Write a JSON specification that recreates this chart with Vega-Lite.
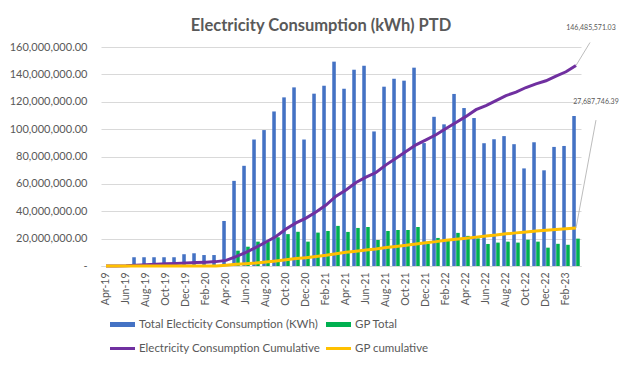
{
  "$schema": "https://vega.github.io/schema/vega-lite/v6.json",
  "width": 480,
  "height": 219,
  "autosize": {"type": "none"},
  "padding": {"left": 101, "top": 47, "right": 61, "bottom": 101},
  "background": "white",
  "title": {"text": "Electricity Consumption (kWh) PTD", "font": "Lato", "fontSize": 16.5, "fontWeight": "bold", "color": "#595959", "anchor": "middle", "frame": "group", "dx": -20, "dy": 24, "offset": 14},
  "config": {"view": {"stroke": null}, "font": "Lato"},
  "data": {"values": [
    {"m":"Apr-19","total":0,"gp":0,"cum":0,"gpcum":0},
    {"m":"May-19","total":0,"gp":0,"cum":0,"gpcum":0},
    {"m":"Jun-19","total":0,"gp":0,"cum":100000,"gpcum":0},
    {"m":"Jul-19","total":6400000,"gp":0,"cum":600000,"gpcum":0},
    {"m":"Aug-19","total":6400000,"gp":0,"cum":1000000,"gpcum":0},
    {"m":"Sep-19","total":6400000,"gp":0,"cum":1300000,"gpcum":0},
    {"m":"Oct-19","total":6400000,"gp":0,"cum":1600000,"gpcum":0},
    {"m":"Nov-19","total":6400000,"gp":0,"cum":1900000,"gpcum":0},
    {"m":"Dec-19","total":8600000,"gp":0,"cum":2200000,"gpcum":0},
    {"m":"Jan-20","total":9300000,"gp":0,"cum":2500000,"gpcum":0},
    {"m":"Feb-20","total":8000000,"gp":0,"cum":2800000,"gpcum":0},
    {"m":"Mar-20","total":8000000,"gp":0,"cum":3200000,"gpcum":0},
    {"m":"Apr-20","total":32900000,"gp":1500000,"cum":4100000,"gpcum":600000},
    {"m":"May-20","total":62200000,"gp":11200000,"cum":6800000,"gpcum":1200000},
    {"m":"Jun-20","total":73200000,"gp":14100000,"cum":10000000,"gpcum":1700000},
    {"m":"Jul-20","total":92400000,"gp":17800000,"cum":13600000,"gpcum":2200000},
    {"m":"Aug-20","total":99300000,"gp":17500000,"cum":17500000,"gpcum":2900000},
    {"m":"Sep-20","total":112900000,"gp":21000000,"cum":21500000,"gpcum":3700000},
    {"m":"Oct-20","total":123200000,"gp":23300000,"cum":27000000,"gpcum":4600000},
    {"m":"Nov-20","total":130500000,"gp":25000000,"cum":31500000,"gpcum":5400000},
    {"m":"Dec-20","total":92400000,"gp":17800000,"cum":35000000,"gpcum":6100000},
    {"m":"Jan-21","total":125900000,"gp":24400000,"cum":39500000,"gpcum":6900000},
    {"m":"Feb-21","total":131700000,"gp":25600000,"cum":44500000,"gpcum":7800000},
    {"m":"Mar-21","total":149300000,"gp":29300000,"cum":51000000,"gpcum":9000000},
    {"m":"Apr-21","total":129500000,"gp":24900000,"cum":55600000,"gpcum":10000000},
    {"m":"May-21","total":143400000,"gp":27800000,"cum":61000000,"gpcum":10800000},
    {"m":"Jun-21","total":146300000,"gp":28500000,"cum":64900000,"gpcum":11700000},
    {"m":"Jul-21","total":98300000,"gp":19000000,"cum":68300000,"gpcum":12400000},
    {"m":"Aug-21","total":131000000,"gp":25600000,"cum":73900000,"gpcum":13500000},
    {"m":"Sep-21","total":136800000,"gp":26300000,"cum":78800000,"gpcum":14300000},
    {"m":"Oct-21","total":135400000,"gp":26300000,"cum":83700000,"gpcum":15100000},
    {"m":"Nov-21","total":144900000,"gp":28500000,"cum":88500000,"gpcum":16100000},
    {"m":"Dec-21","total":89800000,"gp":16400000,"cum":92200000,"gpcum":17000000},
    {"m":"Jan-22","total":109000000,"gp":20500000,"cum":95900000,"gpcum":17800000},
    {"m":"Feb-22","total":103500000,"gp":18500000,"cum":100500000,"gpcum":18800000},
    {"m":"Mar-22","total":125700000,"gp":24200000,"cum":104900000,"gpcum":19500000},
    {"m":"Apr-22","total":115400000,"gp":22000000,"cum":109300000,"gpcum":20200000},
    {"m":"May-22","total":108100000,"gp":20200000,"cum":114200000,"gpcum":21100000},
    {"m":"Jun-22","total":89700000,"gp":16100000,"cum":117200000,"gpcum":21900000},
    {"m":"Jul-22","total":92600000,"gp":17100000,"cum":120800000,"gpcum":22600000},
    {"m":"Aug-22","total":94900000,"gp":17800000,"cum":124500000,"gpcum":23500000},
    {"m":"Sep-22","total":89000000,"gp":17100000,"cum":127000000,"gpcum":24200000},
    {"m":"Oct-22","total":71300000,"gp":19200000,"cum":130400000,"gpcum":24900000},
    {"m":"Nov-22","total":90400000,"gp":17800000,"cum":133100000,"gpcum":25600000},
    {"m":"Dec-22","total":69900000,"gp":13400000,"cum":135300000,"gpcum":26100000},
    {"m":"Jan-23","total":87000000,"gp":16200000,"cum":138700000,"gpcum":26600000},
    {"m":"Feb-23","total":87700000,"gp":15500000,"cum":141900000,"gpcum":27200000},
    {"m":"Mar-23","total":109600000,"gp":20000000,"cum":146485571.03,"gpcum":27687746.39}
  ]},
  "encoding": {
    "x": {
      "field": "m", "type": "nominal",
      "scale": {"domain": ["Apr-19","May-19","Jun-19","Jul-19","Aug-19","Sep-19","Oct-19","Nov-19","Dec-19","Jan-20","Feb-20","Mar-20","Apr-20","May-20","Jun-20","Jul-20","Aug-20","Sep-20","Oct-20","Nov-20","Dec-20","Jan-21","Feb-21","Mar-21","Apr-21","May-21","Jun-21","Jul-21","Aug-21","Sep-21","Oct-21","Nov-21","Dec-21","Jan-22","Feb-22","Mar-22","Apr-22","May-22","Jun-22","Jul-22","Aug-22","Sep-22","Oct-22","Nov-22","Dec-22","Jan-23","Feb-23","Mar-23"], "paddingInner": 0.25, "paddingOuter": 0.125},
      "axis": {"values": ["Apr-19","Jun-19","Aug-19","Oct-19","Dec-19","Feb-20","Apr-20","Jun-20","Aug-20","Oct-20","Dec-20","Feb-21","Apr-21","Jun-21","Aug-21","Oct-21","Dec-21","Feb-22","Apr-22","Jun-22","Aug-22","Oct-22","Dec-22","Feb-23"], "labelAngle": 270, "labelFontSize": 10.5, "labelColor": "#595959", "labelFont": "Lato", "ticks": false, "domainColor": "#d9d9d9", "title": null, "labelPadding": 6, "grid": false}
    },
    "y": {
      "field": "value", "type": "quantitative",
      "scale": {"domain": [0, 160000000]},
      "axis": {"values": [0,20000000,40000000,60000000,80000000,100000000,120000000,140000000,160000000], "labelExpr": "datum.value === 0 ? '-' : format(datum.value, ',.2f')", "grid": true, "gridColor": "#d9d9d9", "domain": false, "ticks": false, "labelPadding": 14, "labelFontSize": 11, "labelFont": "Lato", "labelColor": "#595959", "title": null, "encode": {"labels": {"update": {"dx": {"signal": "datum.value === 0 ? -7 : 0"}}}}}
    }
  },
  "layer": [
    {
      "transform": [{"fold": ["total", "gp"], "as": ["series", "value"]}],
      "mark": {"type": "bar"},
      "encoding": {
        "xOffset": {"field": "series", "type": "nominal", "scale": {"domain": ["total", "gp"], "paddingInner": 0.1}},
        "color": {
          "field": "series", "type": "nominal",
          "scale": {"domain": ["total", "gp", "cum", "gpcum"], "range": ["#4472C4", "#00B050", "#7030A0", "#FFC000"]},
          "legend": {"orient": "none", "legendX": 9, "legendY": 265, "direction": "horizontal", "columns": 2, "title": null, "symbolType": "M-1,-0.2H1V0.2H-1Z", "symbolSize": 625, "symbolStrokeWidth": 0, "labelFont": "Lato", "labelFontSize": 11.5, "labelColor": "#595959", "labelOffset": 4, "labelLimit": 400, "columnPadding": 5, "rowPadding": 6, "labelExpr": "datum.label === 'total' ? 'Total Electicity Consumption (KWh)' : datum.label === 'gp' ? 'GP Total' : datum.label === 'cum' ? 'Electricity Consumption Cumulative' : 'GP cumulative'", "encode": {"symbols": {"update": {"fill": {"scale": "color", "field": "value"}, "shape": {"signal": "(datum.value === 'cum' || datum.value === 'gpcum') ? 'M-1,-0.12H1V0.12H-1Z' : 'M-1,-0.2H1V0.2H-1Z'"}}}}}
        }
      }
    },
    {
      "transform": [{"fold": ["cum", "gpcum"], "as": ["series", "value"]}],
      "mark": {"type": "line", "strokeWidth": 3},
      "encoding": {
        "color": {
          "field": "series", "type": "nominal",
          "scale": {"domain": ["total", "gp", "cum", "gpcum"], "range": ["#4472C4", "#00B050", "#7030A0", "#FFC000"]},
          "legend": {"orient": "none", "legendX": 9, "legendY": 265, "direction": "horizontal", "columns": 2, "title": null, "symbolType": "M-1,-0.2H1V0.2H-1Z", "symbolSize": 625, "symbolStrokeWidth": 0, "labelFont": "Lato", "labelFontSize": 11.5, "labelColor": "#595959", "labelOffset": 4, "labelLimit": 400, "columnPadding": 5, "rowPadding": 6, "labelExpr": "datum.label === 'total' ? 'Total Electicity Consumption (KWh)' : datum.label === 'gp' ? 'GP Total' : datum.label === 'cum' ? 'Electricity Consumption Cumulative' : 'GP cumulative'", "encode": {"symbols": {"update": {"fill": {"scale": "color", "field": "value"}, "shape": {"signal": "(datum.value === 'cum' || datum.value === 'gpcum') ? 'M-1,-0.12H1V0.12H-1Z' : 'M-1,-0.2H1V0.2H-1Z'"}}}}}
        }
      }
    },
    {
      "transform": [{"fold": ["cum"], "as": ["series", "value"]}, {"filter": {"field": "m", "equal": "Mar-23"}}],
      "mark": {"type": "text", "dx": 15, "dy": -37, "fontSize": 7, "font": "Lato", "color": "#595959", "align": "center", "baseline": "middle"},
      "encoding": {"text": {"field": "value", "type": "quantitative", "format": ",.2f"}}
    },
    {
      "transform": [{"fold": ["gpcum"], "as": ["series", "value"]}, {"filter": {"field": "m", "equal": "Mar-23"}}],
      "mark": {"type": "text", "dx": 20, "dy": -126, "fontSize": 7, "font": "Lato", "color": "#595959", "align": "center", "baseline": "middle"},
      "encoding": {"text": {"field": "value", "type": "quantitative", "format": ",.2f"}}
    },
    {
      "transform": [{"fold": ["cum"], "as": ["series", "value"]}, {"filter": {"field": "m", "equal": "Mar-23"}}],
      "mark": {"type": "point", "shape": "M0,0L1.12,-1.84", "size": 625, "filled": false, "stroke": "#a6a6a6", "strokeWidth": 0.75, "opacity": 1},
      "encoding": {}
    },
    {
      "transform": [{"fold": ["gpcum"], "as": ["series", "value"]}, {"filter": {"field": "m", "equal": "Mar-23"}}],
      "mark": {"type": "point", "shape": "M0,0L0.37,-2", "size": 11664, "filled": false, "stroke": "#a6a6a6", "strokeWidth": 0.75, "opacity": 1},
      "encoding": {}
    }
  ]
}
